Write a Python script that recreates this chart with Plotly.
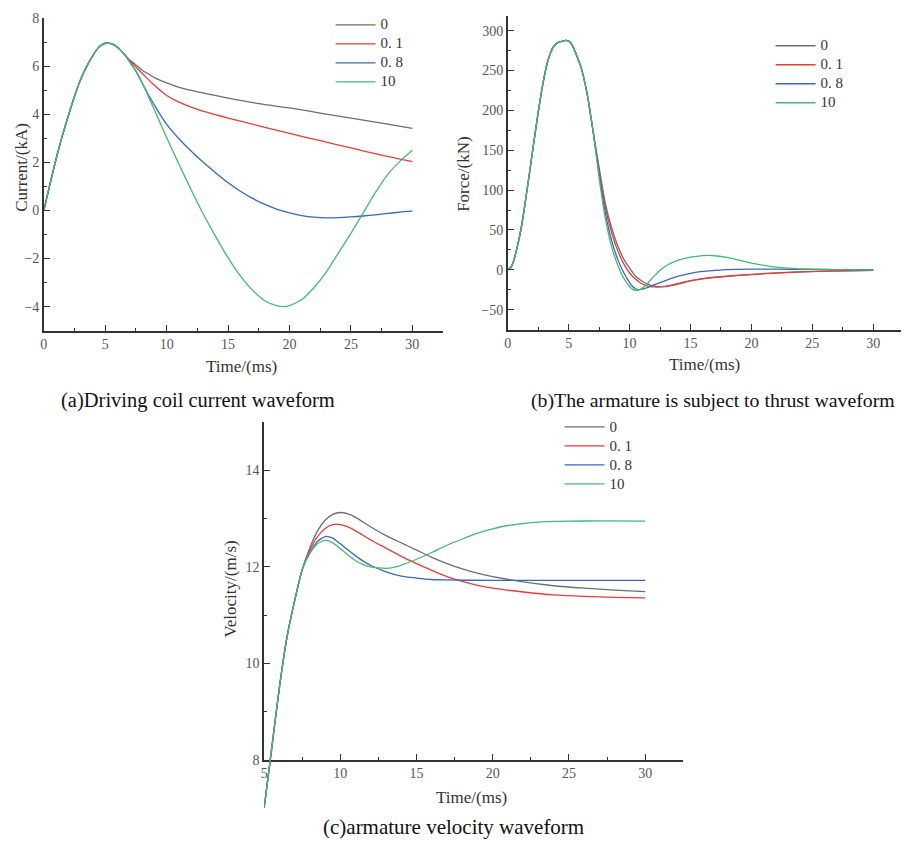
import plotly.graph_objects as go

# Measured placement of the figure inside the photographed window:
# window_x = X0 + fig_x ; window_y = Y0 + SY * fig_y
X0, Y0, SY = 10.0, 14.0, 0.983
W, H = 899, 845
FONT = "Liberation Serif"

# ---------- data ----------
series_names = ["0", "0. 1", "0. 8", "10"]
colors = ["#6e6e6e", "#ea3b3b", "#3a66bf", "#45b874"]

# (a) current, kA
cur_t_common = [0, 0.5, 1, 1.5, 2, 2.5, 3, 3.5, 4, 4.5, 5, 5.5, 6, 6.5]
cur_i_common = [0, 1.1, 2.15, 3.1, 3.95, 4.75, 5.45, 6.0, 6.45, 6.8, 6.95, 6.93, 6.78, 6.52]

cur_t_0 = [7, 7.5, 8, 8.5, 9, 10, 11, 12, 13, 15, 17.5, 20, 22.5, 25, 27.5, 30]
cur_i_0 = [6.25, 6.05, 5.83, 5.68, 5.52, 5.3, 5.12, 4.99, 4.88, 4.67, 4.44, 4.26, 4.05, 3.84, 3.63, 3.41]
cur_t_01 = [7, 7.5, 8, 8.5, 9, 10, 11, 12.5, 15, 17.5, 20, 22.5, 25, 27.5, 30]
cur_i_01 = [6.22, 5.96, 5.7, 5.45, 5.2, 4.78, 4.5, 4.2, 3.84, 3.52, 3.2, 2.9, 2.6, 2.3, 2.03]
cur_t_08 = [7, 7.5, 8, 8.5, 9, 9.5, 10, 11, 12, 13, 14, 15, 16, 17, 18, 19, 20, 21, 22, 23, 24, 25, 26, 27, 28, 29, 30]
cur_i_08 = [6.17, 5.78, 5.3, 4.82, 4.38, 3.96, 3.58, 2.98, 2.46, 1.99, 1.56, 1.15, 0.8, 0.5, 0.25, 0.05, -0.1,
            -0.21, -0.28, -0.31, -0.3, -0.27, -0.23, -0.18, -0.12, -0.07, -0.03]
cur_t_10 = [7, 7.5, 8, 8.5, 9, 9.5, 10, 11, 12, 13, 14, 15, 16, 17, 18, 19, 19.5, 20, 21, 22, 23, 24, 25, 26, 27,
            28, 29, 30]
cur_i_10 = [6.18, 5.8, 5.32, 4.75, 4.18, 3.6, 3.02, 1.92, 0.85, -0.17, -1.1, -1.97, -2.72, -3.32, -3.75, -3.97,
            -4.0, -3.96, -3.7, -3.2, -2.55, -1.75, -0.95, -0.1, 0.75, 1.5, 2.05, 2.5]

# (b) force, kN
frc_t_common = [0, 0.25, 0.5, 0.75, 1, 1.25, 1.5, 1.75, 2, 2.25, 2.5, 2.75, 3, 3.25, 3.5, 3.75, 4, 4.25, 4.5,
                4.75, 5, 5.25, 5.5, 5.75, 6, 6.5, 7]
frc_f_common = [0, 3, 12, 27, 44, 66, 92, 118, 145, 172, 198, 222, 243, 260, 272, 280, 284, 286, 287, 288, 287,
                283, 275, 265, 255, 222, 174]

frc_t_0 = [7.5, 8, 8.5, 9, 9.5, 10, 10.5, 11, 11.5, 12, 12.5, 13, 14, 15, 16, 17.5, 20, 22.5, 25, 27.5, 30]
frc_f_0 = [128, 84, 54, 31, 14, 2, -8, -14, -18, -20.5, -21.2, -21, -18, -14, -11.5, -9, -6, -3.8, -2.2, -1.3, -0.8]
frc_t_01 = [7.5, 8, 8.5, 9, 9.5, 10, 10.5, 11, 11.5, 12, 12.5, 13, 14, 15, 16, 17.5, 20, 22.5, 25, 27.5, 30]
frc_f_01 = [124, 79, 48, 25, 8, -4, -12, -17.5, -20.5, -21.5, -21.5, -20.5, -17, -13.5, -11, -8.7, -5.7, -3.5, -2, -1.2, -0.7]
frc_t_08 = [7.5, 8, 8.5, 9, 9.5, 10, 10.25, 10.5, 10.75, 11, 11.5, 12, 13, 14, 15, 16, 17, 18, 20, 22, 25, 30]
frc_f_08 = [120, 72, 38, 14, -3, -16, -21, -23.8, -24.8, -24.3, -22, -19, -13.3, -8, -4.5, -2, -0.8, 0.2, 0.8, 0.8,
            0.5, 0]
frc_t_10 = [7.5, 8, 8.5, 9, 9.5, 10, 10.25, 10.5, 10.75, 11, 11.5, 12, 12.5, 13, 14, 15, 16, 16.5, 17, 18, 19, 20,
            21, 22, 23, 24, 25, 27, 30]
frc_f_10 = [115, 65, 30, 7, -10, -21, -24.5, -25.8, -25.5, -23.5, -16.5, -8, -0.5, 5, 12, 15.8, 17.8, 18, 17.6,
            15.5, 12, 8.5, 5.5, 3.3, 2, 1.2, 0.8, 0.3, 0]

# (c) velocity, m/s
vel_t_common = [5, 5.5, 6, 6.5, 7, 7.5]
vel_v_common = [7.0, 8.25, 9.5, 10.55, 11.3, 11.95]

vel_t_0 = [8, 8.5, 9, 9.5, 10, 10.5, 11, 12, 13, 14, 15, 16, 17, 18, 19, 20, 22, 24, 26, 28, 30]
vel_v_0 = [12.4, 12.75, 12.97, 13.09, 13.13, 13.1, 13.03, 12.83, 12.65, 12.5, 12.35, 12.2, 12.07, 11.96, 11.87,
           11.8, 11.69, 11.61, 11.56, 11.52, 11.49]
vel_t_01 = [8, 8.5, 9, 9.5, 10, 10.5, 11, 12, 13, 14, 15, 16, 17, 18, 19, 20, 22, 24, 26, 28, 30]
vel_v_01 = [12.35, 12.63, 12.8, 12.88, 12.88, 12.83, 12.75, 12.56, 12.39, 12.22, 12.07, 11.93, 11.8, 11.7, 11.62,
            11.56, 11.48, 11.42, 11.39, 11.37, 11.36]
vel_t_08 = [8, 8.5, 9, 9.5, 10, 10.5, 11, 11.5, 12, 13, 14, 15, 16, 17, 20, 25, 30]
vel_v_08 = [12.3, 12.53, 12.63, 12.6, 12.48, 12.35, 12.23, 12.12, 12.03, 11.9, 11.81, 11.77, 11.74, 11.73, 11.72,
            11.72, 11.72]
vel_t_10 = [8, 8.5, 9, 9.5, 10, 10.5, 11, 11.5, 12, 12.5, 13, 13.5, 14, 15, 16, 17, 18, 19, 20, 21, 22, 23, 24,
            25, 27, 30]
vel_v_10 = [12.28, 12.48, 12.55, 12.5, 12.38, 12.25, 12.13, 12.05, 12.0, 11.98, 11.97, 11.99, 12.04, 12.16, 12.3,
            12.45, 12.58, 12.7, 12.79, 12.86, 12.9, 12.93, 12.945, 12.95, 12.955, 12.95]

x_tick_vals = [0, 5, 10, 15, 20, 25, 30]
captions = ["(a)Driving coil current waveform",
            "(b)The armature is subject to thrust waveform",
            "(c)armature velocity waveform"]

# ---------- figure ----------
fig = go.Figure()

def rx(r, clamp=True):
    v = (r - X0) / W
    return min(1.0, max(0.0, v)) if clamp else v

def ry(r, clamp=True):
    v = 1 - ((r - Y0) / SY) / H
    return min(1.0, max(0.0, v)) if clamp else v

def leg_name(s):
    return '<span style="font-size:15px">' + s + '</span>'

cur_sets = [(cur_t_0, cur_i_0), (cur_t_01, cur_i_01), (cur_t_08, cur_i_08), (cur_t_10, cur_i_10)]
frc_sets = [(frc_t_0, frc_f_0), (frc_t_01, frc_f_01), (frc_t_08, frc_f_08), (frc_t_10, frc_f_10)]
vel_sets = [(vel_t_0, vel_v_0), (vel_t_01, vel_v_01), (vel_t_08, vel_v_08), (vel_t_10, vel_v_10)]

LINE = dict(width=1.3, shape="spline", smoothing=0.6)
for k in range(4):
    t, v = cur_sets[k]
    fig.add_trace(go.Scatter(x=cur_t_common + t, y=cur_i_common + v, mode="lines", name=leg_name(series_names[k]),
                             line=dict(LINE, color=colors[k]), xaxis="x", yaxis="y", legend="legend"))
for k in range(4):
    t, v = frc_sets[k]
    fig.add_trace(go.Scatter(x=frc_t_common + t, y=frc_f_common + v, mode="lines", name=leg_name(series_names[k]),
                             line=dict(LINE, color=colors[k]), xaxis="x2", yaxis="y2", legend="legend2"))
for k in range(4):
    t, v = vel_sets[k]
    fig.add_trace(go.Scatter(x=vel_t_common + t, y=vel_v_common + v, mode="lines", name=leg_name(series_names[k]),
                             line=dict(LINE, color=colors[k]), xaxis="x3", yaxis="y4", legend="legend3"))
# empty trace so the visible velocity axis is drawn
fig.add_trace(go.Scatter(x=[], y=[], xaxis="x3", yaxis="y3", showlegend=False))

AX = dict(showline=True, linecolor="#333333", linewidth=1.5, showgrid=False, zeroline=False,
          ticks="inside", ticklen=6, tickwidth=1.3, tickcolor="#333333",
          tickfont=dict(family=FONT, size=14, color="#555555"))
MINOR = dict(ticks="inside", ticklen=3, tickwidth=1.3, tickcolor="#333333", tick0=0, showgrid=False)

def xax(domain, anchor, rng):
    d = dict(AX)
    d.update(domain=domain, anchor=anchor, range=rng, tickvals=x_tick_vals, minor=dict(MINOR, dtick=2.5))
    return d

def yax(domain, anchor, rng, dtick, minor_dtick):
    d = dict(AX)
    d.update(domain=domain, anchor=anchor, range=rng, dtick=dtick, tick0=0, minor=dict(MINOR, dtick=minor_dtick))
    return d

fig.update_layout(
    xaxis=xax([rx(42), rx(443)], "y", [0, 32.5]),
    yaxis=yax([ry(330), ry(17)], "x", [-5, 8], 2, 1),
    xaxis2=xax([rx(508), rx(905.7)], "y2", [0, 32.5]),
    yaxis2=yax([ry(328.8), ry(15)], "x2", [-75, 318.5], 50, 25),
    xaxis3=xax([rx(263.3), rx(684.3)], "y3", [5, 32.5]),
    yaxis3=yax([ry(759.3), ry(421.7)], "x3", [8, 15], 2, 1),
    yaxis4=dict(domain=[ry(807.5), ry(421.7)], anchor="x3", range=[7, 15], visible=False),
)

LEG = dict(xanchor="left", yanchor="top", bgcolor="rgba(0,0,0,0)", borderwidth=0,
           font=dict(family=FONT, size=12, color="#333333"), tracegroupgap=0, itemwidth=40)
# legend box top sits about 16 figure px above the first row centre
fig.update_layout(
    legend=dict(LEG, x=rx(330), y=ry(25 - 16 * SY, clamp=False)),
    legend2=dict(LEG, x=rx(772), y=ry(46 - 16 * SY, clamp=False)),
    legend3=dict(LEG, x=rx(560), y=ry(427.5 - 16 * SY, clamp=False)),
)

ann = []
# axis titles
TF = dict(family=FONT, size=17, color="#333333")
for txt, x, y, ang in [("Current/(kA)", 20, 166, -90), ("Time/(ms)", 241, 366, 0),
                       ("Force/(kN)", 464, 173, -90), ("Time/(ms)", 706, 364, 0),
                       ("Velocity/(m/s)", 230, 589, -90), ("Time/(ms)", 472, 797, 0)]:
    ann.append(dict(text=txt, x=rx(x), y=ry(y), xref="paper", yref="paper", showarrow=False,
                    xanchor="center", yanchor="middle", textangle=ang, font=TF))
# captions
for txt, x, y, fs in [(captions[0], 197, 400, 20.5), (captions[1], 714, 400, 19.8), (captions[2], 453, 827, 21)]:
    ann.append(dict(text=txt, x=rx(x), y=ry(y), xref="paper", yref="paper", showarrow=False,
                    xanchor="center", yanchor="middle", font=dict(family=FONT, size=fs, color="#111111")))

fig.update_layout(annotations=ann, width=W, height=H, margin=dict(l=0, r=0, t=0, b=0),
                  paper_bgcolor="white", plot_bgcolor="rgba(0,0,0,0)", showlegend=True)

fig.write_html("out.html")
